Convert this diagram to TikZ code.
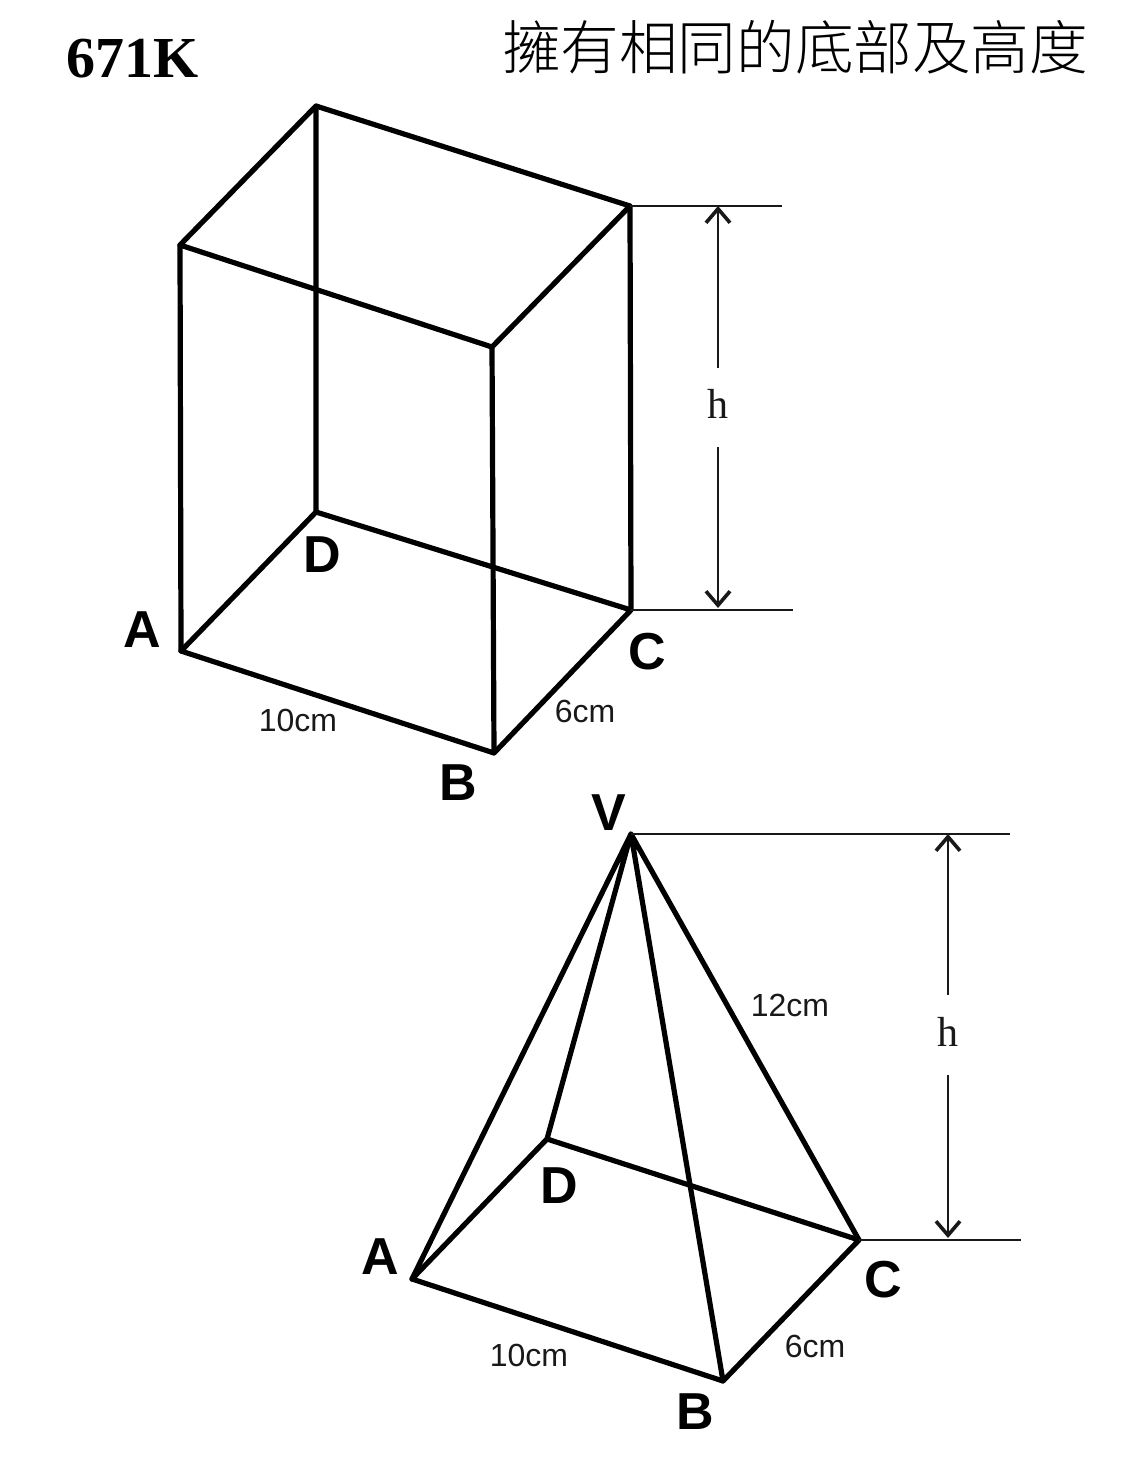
\documentclass[tikz,border=0pt]{standalone}
\usepackage{fontspec}
\setmainfont{Liberation Sans}
\newfontfamily\seriff{Liberation Serif}
\newfontfamily\cjk{Noto Sans CJK TC Light}
\usetikzlibrary{arrows.meta}
\tikzset{
  solid edge/.style={line width=5.2pt,line join=round,line cap=round,black},
  guide/.style={line width=1.5pt,black!90},
  barb/.tip={Straight Barb[length=14pt,width=24pt,line width=3.6pt]},
  vertex/.style={font=\fontsize{52}{52}\selectfont\bfseries,inner sep=0pt,text=black},
  size/.style={font=\fontsize{32}{32}\selectfont,inner sep=0pt,text=black!90},
  hlabel/.style={font=\seriff\fontsize{42}{42}\selectfont,inner sep=0pt,text=black!90},
}
\begin{document}
\begin{tikzpicture}[x=1pt,y=-1pt]
\useasboundingbox (0,0) rectangle (1125,1469);
\fill[white] (0,0) rectangle (1125,1469);
% titles
\node[font=\seriff\fontsize{58}{58}\selectfont\bfseries,inner sep=0pt] (code) at (133,59) {671K};
\node[font=\fontsize{58.6}{58.6}\selectfont,inner sep=0pt,text=black] (title) at (795,47) {\cjk 擁有相同的底部及高度};
% prism
\coordinate (A) at (181,651);
\coordinate (B) at (494,753);
\coordinate (C) at (631,610);
\coordinate (D) at (316,512);
\coordinate (A2) at (180,245);
\coordinate (B2) at (492,347);
\coordinate (C2) at (630,206);
\coordinate (D2) at (316,106);
\draw[solid edge] (A) -- (B) -- (C) -- (D) -- (A);
\draw[solid edge] (A2) -- (B2) -- (C2) -- (D2) -- (A2);
\draw[solid edge] (A) -- (A2) (B) -- (B2) (C) -- (C2) (D) -- (D2);
\coordinate (g1) at (782,206);
\coordinate (g2) at (793,610);
\draw[guide] (C2) -- (g1);
\draw[guide] (C) -- (g2);
\node[hlabel] (h1) at (718,404) {h};
\coordinate (d1t) at (718,206);
\coordinate (d1b) at (718,608);
\coordinate (d1m) at (718,368);
\coordinate (d1n) at (718,447);
\draw[guide,{barb}-] (d1t) -- (d1m);
\draw[guide,-{barb}] (d1n) -- (d1b);
\node[vertex] (la) at (142,630) {A};
\node[vertex] (lb) at (458,783) {B};
\node[vertex] (lc) at (647,652) {C};
\node[vertex] (ld) at (322,555) {D};
\node[size] (s1) at (298,720) {10cm};
\node[size] (s2) at (585,711) {6cm};
% pyramid
\coordinate (PA) at (412,1279);
\coordinate (PB) at (723,1381);
\coordinate (PC) at (859,1240);
\coordinate (PD) at (547,1139);
\coordinate (V) at (631,834);
\draw[solid edge] (PA) -- (PB) -- (PC) -- (PD) -- (PA);
\draw[solid edge] (V) -- (PA) (V) -- (PB) (V) -- (PC) (V) -- (PD);
\coordinate (g3) at (1010,834);
\coordinate (g4) at (1021,1240);
\draw[guide] (V) -- (g3);
\draw[guide] (PC) -- (g4);
\node[hlabel] (h2) at (948,1032) {h};
\coordinate (d2t) at (948,834);
\coordinate (d2b) at (948,1238);
\coordinate (d2m) at (948,995);
\coordinate (d2n) at (948,1075);
\draw[guide,{barb}-] (d2t) -- (d2m);
\draw[guide,-{barb}] (d2n) -- (d2b);
\node[vertex] (pla) at (380,1257) {A};
\node[vertex] (plb) at (695,1412) {B};
\node[vertex] (plc) at (883,1280) {C};
\node[vertex] (pld) at (559,1186) {D};
\node[vertex] (plv) at (609,813) {V};
\node[size] (p1) at (529,1355) {10cm};
\node[size] (p2) at (815,1346) {6cm};
\node[size] (p3) at (790,1005) {12cm};
\end{tikzpicture}
\end{document}
